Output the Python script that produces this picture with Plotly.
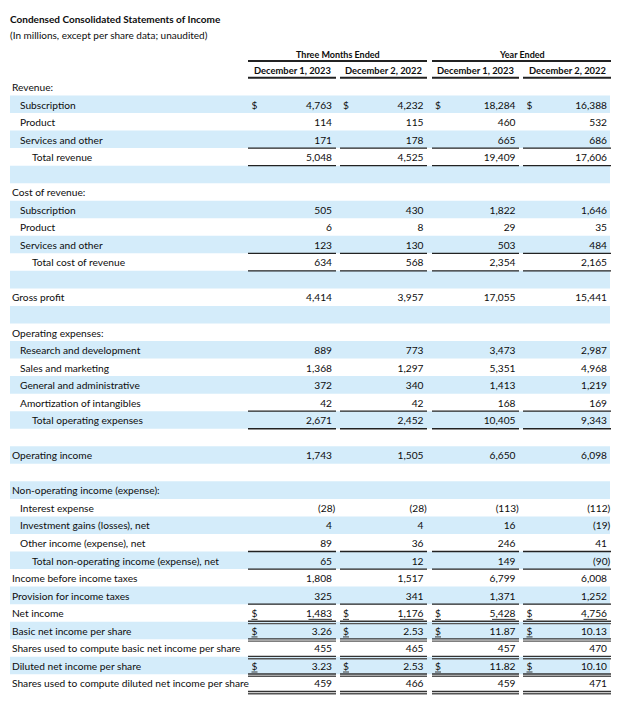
import plotly.graph_objects as go

# ---------------- data ----------------
title = "Condensed Consolidated Statements of Income"
subtitle = "(In millions, except per share data; unaudited)"
group_headers = ["Three Months Ended", "Year Ended"]
column_headers = ["December 1, 2023", "December 2, 2022", "December 1, 2023", "December 2, 2022"]

row_labels = [
    "Revenue:", "Subscription", "Product", "Services and other", "Total revenue", "",
    "Cost of revenue:", "Subscription", "Product", "Services and other", "Total cost of revenue", "",
    "Gross profit", "",
    "Operating expenses:", "Research and development", "Sales and marketing",
    "General and administrative", "Amortization of intangibles", "Total operating expenses", "",
    "Operating income", "",
    "Non-operating income (expense):", "Interest expense", "Investment gains (losses), net",
    "Other income (expense), net", "Total non-operating income (expense), net",
    "Income before income taxes", "Provision for income taxes", "Net income",
    "Basic net income per share", "Shares used to compute basic net income per share",
    "Diluted net income per share", "Shares used to compute diluted net income per share",
]
row_levels = [0, 1, 1, 1, 2, 0,
              0, 1, 1, 1, 2, 0,
              0, 0,
              0, 1, 1, 1, 1, 2, 0,
              0, 0,
              0, 1, 1, 1, 2,
              0, 0, 0, 0, 0, 0, 0]

q4_2023 = [None, 4763, 114, 171, 5048, None,
           None, 505, 6, 123, 634, None,
           4414, None,
           None, 889, 1368, 372, 42, 2671, None,
           1743, None,
           None, -28, 4, 89, 65,
           1808, 325, 1483, 3.26, 455, 3.23, 459]
q4_2022 = [None, 4232, 115, 178, 4525, None,
           None, 430, 8, 130, 568, None,
           3957, None,
           None, 773, 1297, 340, 42, 2452, None,
           1505, None,
           None, -28, 4, 36, 12,
           1517, 341, 1176, 2.53, 465, 2.53, 466]
fy_2023 = [None, 18284, 460, 665, 19409, None,
           None, 1822, 29, 503, 2354, None,
           17055, None,
           None, 3473, 5351, 1413, 168, 10405, None,
           6650, None,
           None, -113, 16, 246, 149,
           6799, 1371, 5428, 11.87, 457, 11.82, 459]
fy_2022 = [None, 16388, 532, 686, 17606, None,
           None, 1646, 35, 484, 2165, None,
           15441, None,
           None, 2987, 4968, 1219, 169, 9343, None,
           6098, None,
           None, -112, -19, 41, -90,
           6008, 1252, 4756, 10.13, 470, 10.10, 471]

per_share_rows = [31, 33]
dollar_rows = [1, 30, 31, 33]
dollar_underline_rows = [30, 31, 33]
underlined_value_rows = [30]
single_rule_rows = [3, 4, 9, 10, 18, 19, 26, 27, 29]
double_rule_rows = [30, 31, 32, 33, 34]

# ---------------- styling / layout constants ----------------
FONT = "Lato, Roboto, sans-serif"
TXT = "#0d0d0d"
SHADE = "#d4ecfa"
BODY = 10.2
indent_x = {0: 12, 1: 20, 2: 32}
col_left = [248, 340, 432, 523]
col_right = [336, 427, 519, 611]
dollar_x = [251.5, 343, 435, 526.5]
value_right = [332, 423.5, 515.5, 607]
series = [q4_2023, q4_2022, fy_2023, fy_2022]
n_rows = len(row_labels)
TY = 0.1  # text vertical nudge (rows)


def fmt(v, r):
    if v is None:
        return ""
    if r in per_share_rows:
        s = f"{abs(v):,.2f}"
    else:
        s = f"{abs(v):,.0f}"
    return f"({s})" if v < 0 else s


fig = go.Figure()

# alternating shaded bands
band_rows = [r for r in range(n_rows) if r % 2 == 1]
fig.add_trace(go.Bar(
    y=band_rows, x=[600] * len(band_rows), base=10, orientation="h", width=1,
    marker=dict(color=SHADE, line=dict(width=0)), hoverinfo="skip",
))

# row labels
fig.add_trace(go.Scatter(
    x=[indent_x[l] for l in row_levels], y=[r + TY for r in range(n_rows)],
    text=row_labels, mode="text", textposition="middle right",
    textfont=dict(family=FONT, size=BODY, color=TXT), hoverinfo="skip",
))

# values
for c, vals in enumerate(series):
    xs, ys, ts = [], [], []
    for r, v in enumerate(vals):
        if v is None:
            continue
        xs.append(value_right[c] + (3.3 if v < 0 else 0))
        ys.append(r + TY)
        ts.append(fmt(v, r))
    fig.add_trace(go.Scatter(
        x=xs, y=ys, text=ts, mode="text", textposition="middle left",
        textfont=dict(family=FONT, size=BODY, color=TXT), hoverinfo="skip",
    ))
    fig.add_trace(go.Scatter(
        x=[dollar_x[c]] * len(dollar_rows), y=[r + TY for r in dollar_rows],
        text=["$"] * len(dollar_rows), mode="text", textposition="middle right",
        textfont=dict(family=FONT, size=BODY, color=TXT), hoverinfo="skip",
    ))

shapes = []


def hline(x0, x1, y, w=1.3, color="#222"):
    shapes.append(dict(type="line", xref="x", yref="y", x0=x0, x1=x1, y0=y, y1=y,
                       line=dict(color=color, width=w)))


for c in range(4):
    for r in single_rule_rows:
        hline(col_left[c], col_right[c], r + 0.5)
    for r in double_rule_rows:
        hline(col_left[c], col_right[c], r + 0.48, 1.4, "#333")
        hline(col_left[c], col_right[c], r + 0.61, 1.4, "#555")
    for r in dollar_underline_rows:
        hline(dollar_x[c], dollar_x[c] + 6, r + 0.37, 0.9, "#222")
    for r in underlined_value_rows:
        w = 4.7 * len(fmt(series[c][r], r))
        hline(value_right[c] - w, value_right[c], r + 0.37, 0.9, "#222")
    hline(col_left[c], col_right[c], -0.51, 2.0, "#222")

# group header rules
hline(col_left[0], col_right[1], -1.47, 2.0, "#222")
hline(col_left[2], col_right[3], -1.47, 2.0, "#222")

annotations = [
    dict(x=8, y=-3.86, text=f"<b>{title}</b>", showarrow=False, xanchor="left", yanchor="middle",
         font=dict(family=FONT, size=10, color=TXT)),
    dict(x=8, y=-2.93, text=subtitle, showarrow=False, xanchor="left", yanchor="middle",
         font=dict(family=FONT, size=10, color=TXT)),
]
for g, h in enumerate(group_headers):
    annotations.append(dict(x=(col_left[2 * g] + col_right[2 * g + 1]) / 2, y=-1.82,
                            text=f"<b>{h}</b>", showarrow=False, xanchor="center", yanchor="middle",
                            font=dict(family=FONT, size=9, color=TXT)))
for c, h in enumerate(column_headers):
    annotations.append(dict(x=(col_left[c] + col_right[c]) / 2, y=-0.95,
                            text=f"<b>{h}</b>", showarrow=False, xanchor="center", yanchor="middle",
                            font=dict(family=FONT, size=9.4, color=TXT)))

# page has an 8px body margin: shift axis ranges so that data units map to page pixels
OFF = 8
ROW0, PITCH = 86.7, 17.54
fig.update_layout(
    width=640, height=706, margin=dict(l=0, r=0, t=0, b=0),
    paper_bgcolor="white", plot_bgcolor="white", showlegend=False,
    xaxis=dict(range=[OFF, 640 + OFF], visible=False, fixedrange=True),
    yaxis=dict(range=[(706 + OFF - ROW0) / PITCH, (OFF - ROW0) / PITCH], visible=False, fixedrange=True),
    shapes=shapes, annotations=annotations,
)

fig.write_html("out.html")
